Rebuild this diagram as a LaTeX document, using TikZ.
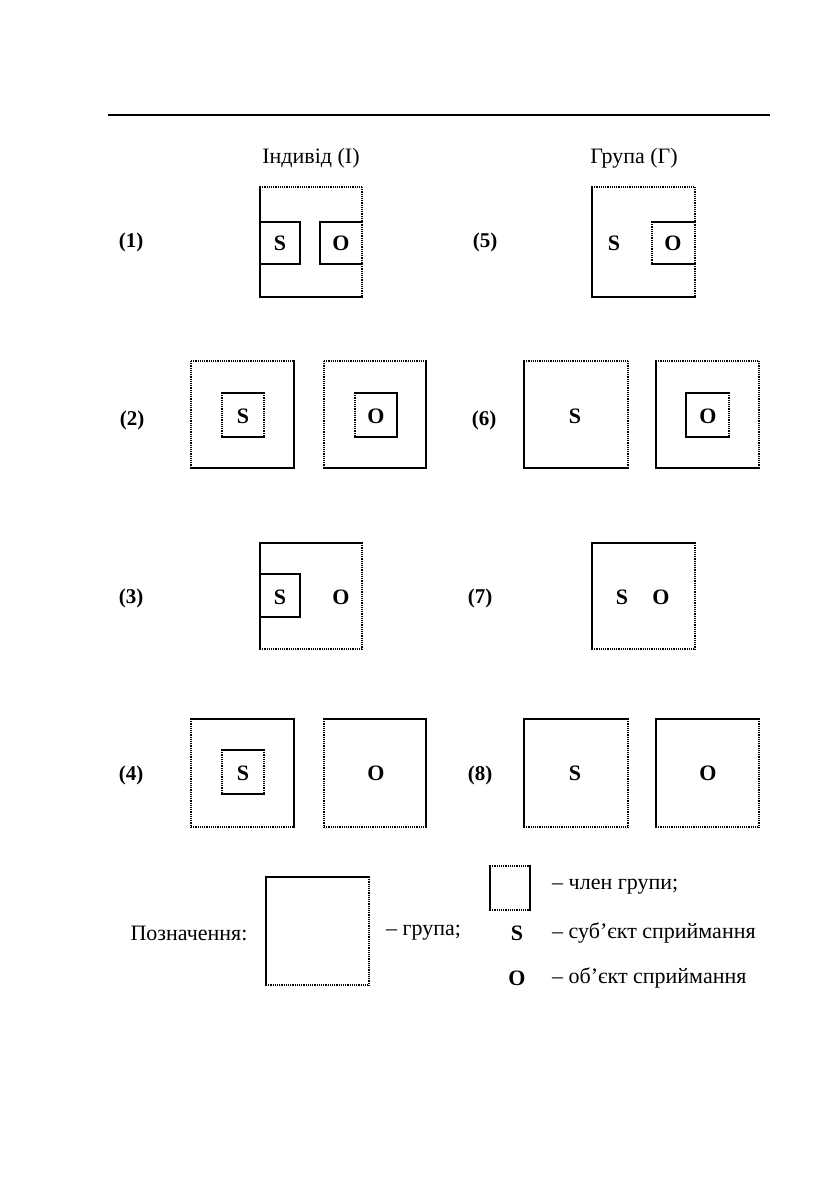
\documentclass[tikz,border=0pt]{standalone}
\usepackage{fontspec}
\setmainfont{Liberation Serif}
\tikzset{
  sl/.style={line width=2pt,black,line cap=rect},
  dt/.style={line width=2.4pt,black,dash pattern=on 1.2pt off 1pt},
  nn/.style={draw=none},
  txt/.style={inner sep=0pt,font=\fontsize{22}{24}\selectfont},
  let/.style={inner sep=0pt,font=\fontsize{22}{24}\selectfont\bfseries},
  num/.style={inner sep=0pt,font=\fontsize{21}{23}\selectfont\bfseries}
}
\newcommand\bx[8]{%
  \draw[#5] (#1,#2) -- (#3,#2);
  \draw[#6] (#3,#2) -- (#3,#4);
  \draw[#7] (#1,#4) -- (#3,#4);
  \draw[#8] (#1,#2) -- (#1,#4);
}
\begin{document}
\begin{tikzpicture}[x=1pt,y=-1pt]
\useasboundingbox (0,0) rectangle (839,1190);
\fill[white] (0,0) rectangle (839,1190);
% rule
\coordinate (r1) at (108,115);
\coordinate (r2) at (770,115);
\draw[line width=2.5pt] (r1) -- (r2);
% headings
\node[txt] (hI) at (311,158) {Індивід (І)};
\node[txt] (hG) at (634,158) {Група (Г)};
% row labels
\node[num] (n1) at (131,242) {(1)};
\node[num] (n5) at (485,242) {(5)};
\node[num] (n2) at (132,420) {(2)};
\node[num] (n6) at (484,420) {(6)};
\node[num] (n3) at (131,598) {(3)};
\node[num] (n7) at (480,598) {(7)};
\node[num] (n4) at (131,775) {(4)};
\node[num] (n8) at (480,775) {(8)};
% (1)
\bx{260}{187}{362}{297}{dt}{dt}{sl}{sl}
\bx{260}{222}{300}{264}{sl}{sl}{sl}{nn}
\bx{320}{222}{362}{264}{sl}{nn}{sl}{sl}
\node[let] (s1) at (280,243) {S};
\node[let] (o1) at (341,243) {O};
% (5)
\bx{592}{187}{695}{297}{dt}{dt}{sl}{sl}
\bx{652}{222}{695}{264}{sl}{nn}{sl}{dt}
\node[let] (s5) at (614,243) {S};
\node[let] (o5) at (673,243) {O};
% (2)
\bx{191}{361}{294}{468}{dt}{sl}{sl}{dt}
\bx{222}{393}{264}{437}{sl}{dt}{sl}{dt}
\node[let] (s2) at (243,416) {S};
\bx{324}{361}{426}{468}{dt}{sl}{sl}{dt}
\bx{355}{393}{397}{437}{sl}{sl}{sl}{dt}
\node[let] (o2) at (376,416) {O};
% (6)
\bx{524}{361}{628}{468}{dt}{dt}{sl}{sl}
\node[let] (s6) at (575,416) {S};
\bx{656}{361}{759}{468}{dt}{dt}{sl}{sl}
\bx{686}{393}{729}{437}{sl}{dt}{sl}{sl}
\node[let] (o6) at (708,416) {O};
% (3)
\bx{260}{543}{362}{649}{sl}{dt}{dt}{sl}
\bx{260}{574}{300}{617}{sl}{sl}{sl}{nn}
\node[let] (s3) at (280,597) {S};
\node[let] (o3) at (341,597) {O};
% (7)
\bx{592}{543}{695}{649}{sl}{dt}{dt}{sl}
\node[let] (s7) at (622,597) {S};
\node[let] (o7) at (661,597) {O};
% (4)
\bx{191}{719}{294}{827}{sl}{sl}{dt}{dt}
\bx{222}{750}{264}{794}{sl}{dt}{sl}{dt}
\node[let] (s4) at (243,773) {S};
\bx{324}{719}{426}{827}{sl}{sl}{dt}{dt}
\node[let] (o4) at (376,773) {O};
% (8)
\bx{524}{719}{628}{827}{sl}{dt}{dt}{sl}
\node[let] (s8) at (575,773) {S};
\bx{656}{719}{759}{827}{sl}{dt}{dt}{sl}
\node[let] (o8) at (708,773) {O};
% legend
\node[txt] (lg) at (189,933) {Позначення:};
\bx{266}{877}{369}{985}{sl}{dt}{dt}{sl}
\node[txt,anchor=west] (lgr) at (386,933) {– група;};
\bx{490}{866}{530}{910}{dt}{sl}{dt}{sl}
\node[txt,anchor=west] (lch) at (552,887) {– член групи;};
\node[let] (ls) at (517,933) {S};
\node[txt,anchor=west] (lsu) at (552,933) {– суб’єкт сприймання};
\node[let] (lo) at (517,978) {O};
\node[txt,anchor=west] (lob) at (552,978) {– об’єкт сприймання};
\end{tikzpicture}
\end{document}
